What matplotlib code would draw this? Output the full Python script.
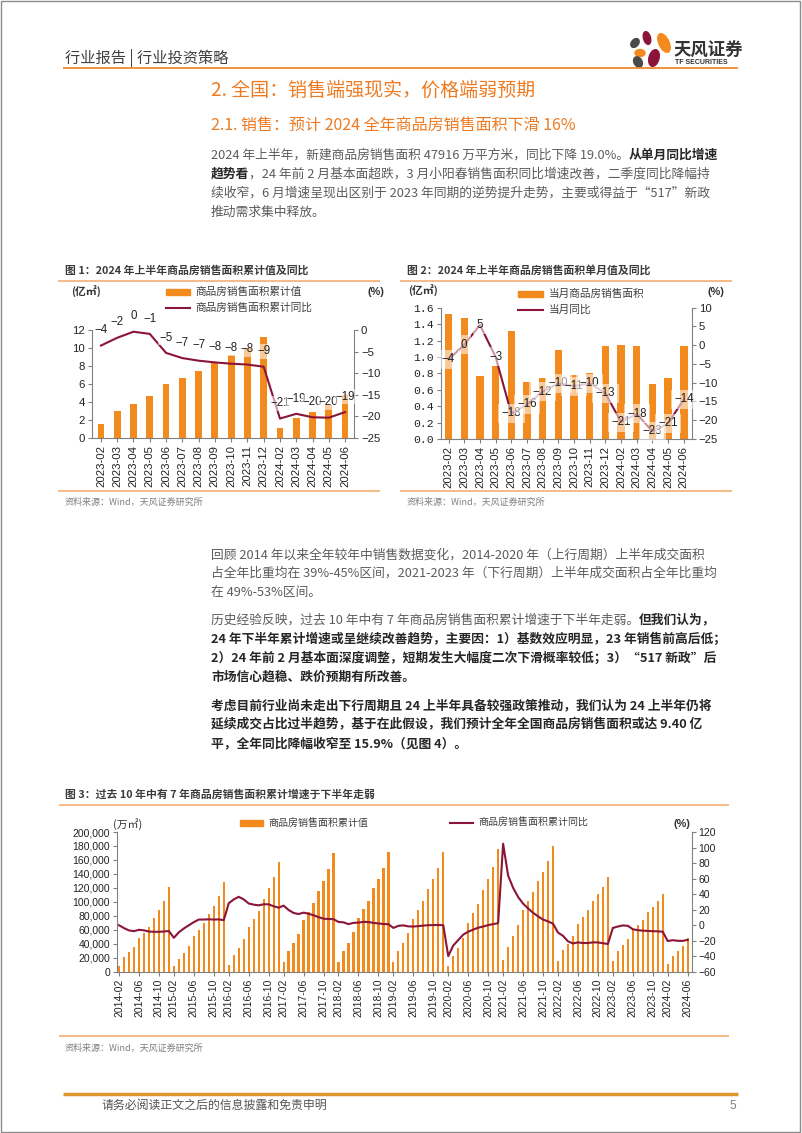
import numpy as np
import matplotlib.pyplot as plt
from matplotlib.patches import Rectangle, Ellipse
from matplotlib.ticker import FuncFormatter

CJK = ['Noto Sans CJK SC', 'DejaVu Sans']
LAT = ['Liberation Sans', 'Noto Sans CJK SC']
MONO = ['Liberation Mono', 'DejaVu Sans Mono']
plt.rcParams['font.family'] = CJK

# ---------------- data ----------------
# chart 1 / 2 : 2023-02 .. 2024-06
c12_months = ['2023-02', '2023-03', '2023-04', '2023-05', '2023-06', '2023-07', '2023-08',
              '2023-09', '2023-10', '2023-11', '2023-12', '2024-02', '2024-03', '2024-04',
              '2024-05', '2024-06']
c1_area = [1.51, 2.99, 3.76, 4.64, 5.95, 6.66, 7.39, 8.48, 9.26, 10.05, 11.17,
           1.14, 2.27, 2.93, 3.66, 4.79]                       # 亿㎡, cumulative
c1_yoy = [-3.6, -1.8, -0.4, -0.9, -5.3, -6.5, -7.1, -7.5, -7.8, -8.0, -8.5,
          -20.5, -19.4, -20.2, -20.3, -19.0]                   # %
c2_area = [1.52, 1.48, 0.77, 0.89, 1.31, 0.70, 0.74, 1.09, 0.78, 0.80, 1.13,
           1.15, 1.13, 0.67, 0.74, 1.13]                       # 亿㎡, monthly
c2_yoy = [-3.8, 0.1, 5.4, -3.1, -18.2, -15.8, -12.4, -10.2, -10.9, -10.2, -12.8,
          -20.5, -18.3, -23.0, -20.8, -14.4]                   # %

# chart 3 : 2014-02 .. 2024-06 (万㎡ cumulative, % yoy)
c3_years = [2014, 2015, 2016, 2017, 2018, 2019, 2020, 2021, 2022, 2023, 2024]
c3_area = [
    8287, 20395, 27700, 35800, 48365, 55800, 64400, 77300, 87900, 101200, 120649,
    7591, 17795, 26300, 36400, 50577, 60100, 70200, 82600, 94500, 108400, 128495,
    10153, 23947, 34300, 47400, 64302, 75000, 86900, 104500, 119800, 135600, 157349,
    14000, 29035, 41400, 54600, 74662, 85700, 98000, 115500, 130300, 146600, 169408,
    14577, 30178, 41500, 56400, 77143, 89300, 101600, 119400, 133100, 148000, 171654,
    14050, 29829, 41400, 55000, 75786, 88300, 101200, 118000, 132300, 148900, 171558,
    8475, 21978, 33900, 48700, 69404, 83500, 97600, 117000, 133100, 150300, 176086,
    17363, 36007, 51100, 66800, 88635, 101200, 114500, 130300, 143200, 158500, 179433,
    15703, 31046, 39768, 50738, 68923, 78178, 87890, 101422, 111200, 121250, 135837,
    15133, 29946, 37636, 46440, 59515, 66563, 73949, 84806, 92579, 100509, 111735,
    11369, 22668, 29252, 36642, 47916,
]
c3_yoy = [
    -0.1, -3.8, -6.8, -7.8, -6.0, -6.7, -8.3, -8.6, -8.6, -8.2, -7.6,
    -16.3, -9.2, -4.3, -0.2, 3.9, 7.2, 7.2, 7.5, 7.2, 7.4, 6.5,
    28.2, 33.1, 36.5, 33.2, 27.9, 26.4, 25.5, 26.9, 26.8, 24.3, 22.5,
    25.1, 19.5, 15.7, 14.3, 16.1, 14.7, 12.7, 10.3, 8.3, 7.9, 7.7,
    4.1, 3.6, 1.3, 2.9, 3.3, 4.2, 4.0, 2.9, 2.2, 1.4, 1.3,
    -3.6, -0.9, -0.3, -1.6, -1.8, -1.3, -0.6, -0.1, 0.1, 0.2, -0.1,
    -39.9, -26.3, -19.3, -12.3, -8.4, -5.8, -3.3, -1.8, 0.0, 1.3, 2.6,
    104.9, 63.8, 48.1, 36.3, 27.7, 21.5, 15.9, 11.3, 7.2, 4.8, 1.9,
    -9.6, -13.8, -20.9, -23.6, -22.2, -23.1, -23.0, -22.2, -22.3, -23.3, -24.3,
    -3.6, -1.8, -0.4, -0.9, -5.3, -6.5, -7.1, -7.5, -7.8, -8.0, -8.5,
    -20.5, -19.4, -20.2, -20.3, -19.0,
]
c3_months = ['%d-%02d' % (y, m) for y in c3_years for m in range(2, 13)
             if not (y == 2024 and m > 6)]

ORANGE = '#F28A1E'
MAROON = '#8B1538'
HEAD = '#EE7B22'
RULE = '#F4AE72'
GRAY = '#5c5c5c'
DARK = '#262626'
AXC = '#808080'

W, H = 802, 1133
fig = plt.figure(figsize=(W / 100, H / 100), dpi=100)
pg = fig.add_axes([0, 0, 1, 1])
pg.set_xlim(0, W)
pg.set_ylim(H, 0)
pg.axis('off')
rend = fig.canvas.get_renderer()


def txt(x, y, s, size=9, color=DARK, weight='normal', ha='left', family=CJK):
    return pg.text(x, y, s, fontsize=size, color=color, weight=weight, ha=ha,
                   va='center', family=family)


def rule(x0, x1, y, color=RULE, lw=1.2):
    pg.plot([x0, x1], [y, y], color=color, lw=lw, solid_capstyle='butt')


def para(y, segs, x=211, size=9.2):
    for s, bold in segs:
        t = txt(x, y, s, size=size, color=DARK if bold else GRAY,
                weight='bold' if bold else 'normal')
        x += t.get_window_extent(rend).width


def lab(v):
    n = int(np.sign(v) * np.floor(abs(v) + 0.5))
    return str(n).replace('-', '\u2212')


# ---------------- page frame / header ----------------
pg.add_patch(Rectangle((0.5, 0.5), 799.5, 1131, fill=False, ec='#8c8c8c', lw=1))
txt(65, 58.3, '行业报告 | 行业投资策略', size=11, color='#404040')
rule(63, 738, 68.3, color='#EE8A2E', lw=1.3)
for (cx, cy, w, h, a, c) in [(647, 38, 7, 13, -15, '#8B1538'), (635, 43, 7, 10, 40, '#4a4a4a'),
                             (664, 43, 10, 20, -25, ORANGE), (640, 53, 10, 7, 0, ORANGE),
                             (654, 58, 10, 17, 15, '#8B1538'), (638, 62, 8, 11, -30, '#4a4a4a')]:
    pg.add_patch(Ellipse((cx, cy), w, h, angle=a, color=c))
txt(674, 50.7, '天风证券', size=12.5, color='#333333', weight='bold')
txt(675, 63, 'TF SECURITIES', size=5, color='#333333', weight='bold', family=LAT)

txt(211, 90.7, '2. 全国：销售端强现实，价格端弱预期', size=13.7, color=HEAD)
txt(211, 125, '2.1. 销售：预计 2024 全年商品房销售面积下滑 16%', size=11.5, color=HEAD)

para(155, [('2024 年上半年，新建商品房销售面积 47916 万平方米，同比下降 19.0%。', False),
           ('从单月同比增速', True)])
para(174.3, [('趋势看', True), ('，24 年前 2 月基本面超跌，3 月小阳春销售面积同比增速改善，二季度同比降幅持', False)])
para(193.3, [('续收窄，6 月增速呈现出区别于 2023 年同期的逆势提升走势，主要或得益于“517”新政', False)])
para(212, [('推动需求集中释放。', False)])

para(555, [('回顾 2014 年以来全年较年中销售数据变化，2014-2020 年（上行周期）上半年成交面积', False)])
para(573.5, [('占全年比重均在 39%-45%区间，2021-2023 年（下行周期）上半年成交面积占全年比重均', False)])
para(592.3, [('在 49%-53%区间。', False)])

para(620, [('历史经验反映，过去 10 年中有 7 年商品房销售面积累计增速于下半年走弱。', False),
           ('但我们认为，', True)])
para(639.5, [('24 年下半年累计增速或呈继续改善趋势，主要因：1）基数效应明显，23 年销售前高后低；', True)])
para(658.5, [('2）24 年前 2 月基本面深度调整，短期发生大幅度二次下滑概率较低；3）“517 新政”后', True)])
para(677.3, [('市场信心趋稳、跌价预期有所改善。', True)])

para(705.7, [('考虑目前行业尚未走出下行周期且 24 上半年具备较强政策推动，我们认为 24 上半年仍将', True)])
para(725, [('延续成交占比过半趋势，基于在此假设，我们预计全年全国商品房销售面积或达 9.40 亿', True)])
para(744, [('平，全年同比降幅收窄至 15.9%（见图 4）。', True)])

# titles, rules, sources
txt(65, 270, '图 1：2024 年上半年商品房销售面积累计值及同比', size=7.8, color='#3a3a3a', weight='bold')
txt(407, 270, '图 2：2024 年上半年商品房销售面积单月值及同比', size=7.8, color='#3a3a3a', weight='bold')
rule(58, 380, 281)
rule(400, 732, 281)
rule(58, 380, 491)
rule(400, 732, 491)
txt(65, 502, '资料来源：Wind，天风证券研究所', size=6.5, color='#808080')
txt(407, 502, '资料来源：Wind，天风证券研究所', size=6.5, color='#808080')

txt(65, 794, '图 3：过去 10 年中有 7 年商品房销售面积累计增速于下半年走弱', size=7.8, color='#3a3a3a', weight='bold')
rule(59, 729, 805)
rule(59, 729, 1036)
txt(65, 1048, '资料来源：Wind，天风证券研究所', size=6.5, color='#808080')

rule(63, 738, 1094.3, color='#E0962C', lw=2.5)
txt(102, 1105.7, '请务必阅读正文之后的信息披露和免责申明', size=8.6, color='#555555')
txt(736, 1106, '5', size=8.6, color='#808080', ha='right', family=LAT)


# ---------------- charts ----------------
def add_ax(x0, y0, x1, y1):
    ax = fig.add_axes([x0 / W, 1 - y1 / H, (x1 - x0) / W, (y1 - y0) / H])
    ax.patch.set_alpha(0)
    return ax


def style(ax, axr, size=8):
    for s in ['top', 'right']:
        ax.spines[s].set_visible(False)
    for s in ['top', 'left', 'bottom']:
        axr.spines[s].set_visible(False)
    for a in (ax, axr):
        for s in a.spines.values():
            s.set_color(AXC)
            s.set_linewidth(0.8)
        a.tick_params(direction='out', length=3, width=0.8, color=AXC,
                      labelsize=size, labelcolor='#222222', pad=2)
        for t in a.get_yticklabels() + a.get_xticklabels():
            t.set_family(LAT)


def legend(x0, x1, y, text, kind, size=7.7):
    if kind == 'bar':
        pg.add_patch(Rectangle((x0, y - 3), x1 - x0, 6, color=ORANGE, zorder=5))
    else:
        pg.plot([x0, x1], [y, y], color=MAROON, lw=1.5, zorder=5)
    txt(x1 + 5.5, y, text, size=size, color='#404040')


# chart 1
ax1 = add_ax(92, 330, 354, 438)
x = np.arange(len(c12_months))
ax1.bar(x, c1_area, width=0.42, color=ORANGE)
ax1.set_xlim(-0.55, len(x) - 0.45)
ax1.set_ylim(0, 12)
ax1.set_yticks(range(0, 13, 2))
ax1.set_xticks(x)
ax1.set_xticklabels(c12_months, rotation=90)
ax1r = ax1.twinx()
ax1r.patch.set_alpha(0)
ax1r.plot(x, c1_yoy, color=MAROON, lw=1.5)
ax1r.set_ylim(-25, 0)
ax1r.set_yticks(range(-25, 1, 5))
for xi, v in zip(x, c1_yoy):
    ax1r.annotate(lab(v), (xi, v), xytext=(0, 11), textcoords='offset points', ha='center',
                  va='center', fontsize=8.3, family=LAT, color='#222222',
                  bbox=dict(boxstyle='square,pad=0.12', fc='white', ec='none', alpha=0.55))
style(ax1, ax1r, 8.2)
txt(71, 292, '(亿㎡)', size=7.8, color='#333333', weight='bold')
txt(367, 292, '(%)', size=7.8, color='#333333', weight='bold', family=LAT)
legend(166, 190, 292, '商品房销售面积累计值', 'bar')
legend(166, 190, 307.7, '商品房销售面积累计同比', 'line')

# chart 2
ax2 = add_ax(440.7, 307.7, 691.7, 439)
ax2.bar(x, c2_area, width=0.47, color=ORANGE)
ax2.set_xlim(-0.5, len(x) - 0.5)
ax2.set_ylim(0, 1.6)
ax2.set_yticks(np.arange(0, 1.61, 0.2))
ax2.yaxis.set_major_formatter(FuncFormatter(lambda v, p: '%.1f' % v))
ax2.set_xticks(x)
ax2.set_xticklabels(c12_months, rotation=90)
ax2r = ax2.twinx()
ax2r.patch.set_alpha(0)
ax2r.plot(x, c2_yoy, color=MAROON, lw=1.5)
ax2r.set_ylim(-25, 10)
ax2r.set_yticks(range(-25, 11, 5))
for xi, v in zip(x, c2_yoy):
    ax2r.annotate(lab(v), (xi, v), xytext=(0, 0), textcoords='offset points', ha='center',
                  va='center', fontsize=8.3, family=LAT, color='#222222',
                  bbox=dict(boxstyle='square,pad=0.3', fc='white', ec='none', alpha=0.55))
style(ax2, ax2r, 8.2)
for t in ax2.get_yticklabels():
    t.set_family(MONO)
txt(408, 290.7, '(亿㎡)', size=7.8, color='#333333', weight='bold')
txt(707, 292, '(%)', size=7.8, color='#333333', weight='bold', family=LAT)
legend(518, 543, 294, '当月商品房销售面积', 'bar')
legend(518, 543, 310, '当月同比', 'line')

# chart 3
ax3 = add_ax(117, 832, 691.7, 971.7)
x3 = np.arange(len(c3_area))
ax3.bar(x3, c3_area, width=0.45, color=ORANGE)
ax3.set_xlim(-0.4, len(x3) - 0.2)
ax3.set_ylim(0, 200000)
ax3.set_yticks(range(0, 200001, 20000))
ax3.yaxis.set_major_formatter(FuncFormatter(lambda v, p: '{:,.0f}'.format(v)))
tick_idx = [i for i, m in enumerate(c3_months) if m[-2:] in ('02', '06', '10')]
ax3.set_xticks(tick_idx)
ax3.set_xticklabels([c3_months[i] for i in tick_idx], rotation=90)
ax3r = ax3.twinx()
ax3r.patch.set_alpha(0)
ax3r.plot(x3, c3_yoy, color=MAROON, lw=1.5)
ax3r.set_ylim(-60, 120)
ax3r.set_yticks(range(-60, 121, 20))
style(ax3, ax3r, 7.5)
txt(113, 824, '(万㎡)', size=7.8, color='#333333')
txt(673, 824, '(%)', size=7.8, color='#333333', weight='bold', family=LAT)
legend(240, 263, 823, '商品房销售面积累计值', 'bar', size=7.2)
legend(450, 473, 823, '商品房销售面积累计同比', 'line', size=7.2)

fig.savefig('out.png', dpi=100)
